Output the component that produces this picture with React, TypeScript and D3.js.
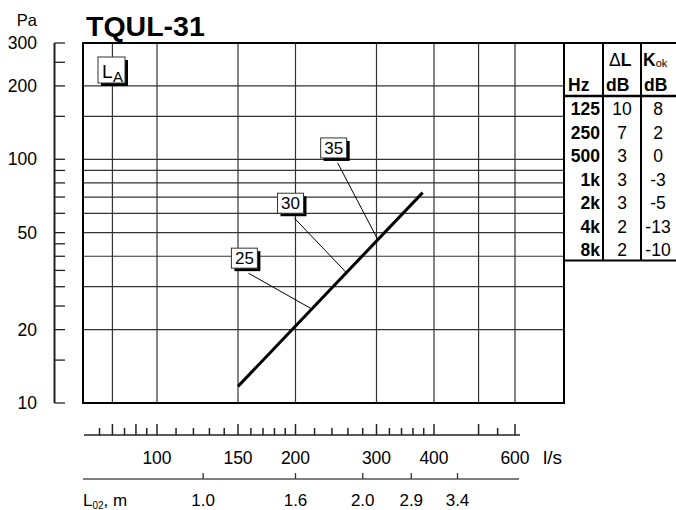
import * as d3 from 'd3';

// pressure (Pa) vs flow (l/s)
const curve: [number, number][] = [
  [150, 11.7],
  [378, 73],
];

// noise level labels: leader start (q, p) and point on curve (q)
const noiseLabels = [
  { db: 25, q: 158, p: 34.1, onQ: 217 },
  { db: 30, q: 199, p: 57.3, onQ: 258 },
  { db: 35, q: 247, p: 96.6, onQ: 302 },
];

const yTicks = [10, 15, 20, 25, 30, 35, 40, 45, 50, 60, 70, 80, 90, 100, 150, 200, 250, 300];
const yLabels = [10, 20, 50, 100, 200, 300];
const yGrid = [20, 30, 40, 50, 60, 70, 80, 90, 100, 150, 200];

const xMajor = [80, 90, 100, 150, 200, 300, 400, 500, 600];
const xMinor = [75, 85, 95, 110, 120, 130, 140, 160, 170, 180, 190, 220, 240, 260, 280, 320, 340, 360, 380, 550];
const xLabels = [100, 150, 200, 300, 400, 600];
const xGrid = [80, 100, 150, 200, 300, 400, 500, 600];

// throw length L02 against flow
const l02Labels = ['1.0', '1.6', '2.0', '2.9', '3.4'];
const l02Flow = [126, 200, 280, 357, 450];

const hz = ['125', '250', '500', '1k', '2k', '4k', '8k'];
const deltaL = [10, 7, 3, 3, 3, 2, 2];
const kok = [8, 2, 0, -3, -5, -13, -10];

const W = 676;
const H = 510;
const font = 'Liberation Sans, Arial, sans-serif';

export default function App() {
  const left = 83, right = 564, top = 43, bottom = 403;
  const x = d3.scaleLog().domain([100, 600]).range([157, 515]);
  const y = d3.scaleLog().domain([10, 300]).range([bottom, top]);

  const line = d3.line<[number, number]>()
    .x(d => x(d[0]))
    .y(d => y(d[1]));

  // pressure on the curve for a given flow (straight line in log-log)
  const pAt = (q: number) => {
    const t = (Math.log(q) - Math.log(curve[0][0])) / (Math.log(curve[1][0]) - Math.log(curve[0][0]));
    return Math.exp(Math.log(curve[0][1]) + t * (Math.log(curve[1][1]) - Math.log(curve[0][1])));
  };

  const axisY = 435;
  const l02Y = 479;
  const tableX = [564, 603, 641];
  const rowH = 23.5;
  const tableBottom = 96 + rowH * hz.length;

  return (
    <svg width={W} height={H} style={{ position: 'absolute', left: 0, top: 0, background: '#fff' }}
      fontFamily={font}>
      <rect width={W} height={H} fill="#fff" />

      {/* title */}
      <text x={86} y={36} fontSize={28.5} fontWeight="bold">TQUL-31</text>
      <text x={37} y={26} fontSize={16.5} textAnchor="end">Pa</text>

      {/* grid */}
      {yGrid.map(v => (
        <line key={'hg' + v} x1={left} x2={right} y1={y(v)} y2={y(v)} stroke="#333" strokeWidth={1.2} />
      ))}
      {xGrid.map(v => (
        <line key={'vg' + v} x1={x(v)} x2={x(v)} y1={top} y2={bottom} stroke="#333" strokeWidth={1.2} />
      ))}
      <rect x={left} y={top} width={right - left} height={bottom - top} fill="none" stroke="#000" strokeWidth={2} />

      {/* y axis */}
      <line x1={54.5} x2={54.5} y1={y(300)} y2={y(10)} stroke="#222" strokeWidth={2} />
      {yTicks.map(v => (
        <line key={'yt' + v} x1={54.5} x2={65} y1={y(v)} y2={y(v)} stroke="#222" strokeWidth={1.3} />
      ))}
      {yLabels.map(v => (
        <text key={'yl' + v} x={37} y={y(v) + 6} fontSize={17.5} textAnchor="end">{v}</text>
      ))}

      {/* L_A box */}
      <rect x={101} y={60} width={27} height={26} fill="#000" />
      <rect x={98} y={57} width={27} height={26} fill="#fff" stroke="#333" strokeWidth={1} />
      <text x={102} y={78} fontSize={19}>L</text>
      <text x={113} y={82} fontSize={15}>A</text>

      {/* curve */}
      <path d={line(curve) ?? ''} fill="none" stroke="#000" strokeWidth={3} />

      {/* noise labels */}
      {noiseLabels.map(d => {
        const ax = x(d.q), ay = y(d.p);
        const bx = x(d.onQ), by = y(pAt(d.onQ));
        return (
          <g key={'nl' + d.db}>
            <line x1={ax} y1={ay} x2={bx} y2={by} stroke="#000" strokeWidth={1} />
            <rect x={ax - 14} y={ay - 22} width={26} height={20} fill="#000" />
            <rect x={ax - 17} y={ay - 25} width={26} height={20} fill="#fff" stroke="#333" strokeWidth={1} />
            <text x={ax - 4} y={ay - 9} fontSize={17} textAnchor="middle">{d.db}</text>
          </g>
        );
      })}

      {/* flow axis */}
      <line x1={84} x2={520} y1={axisY} y2={axisY} stroke="#222" strokeWidth={1.5} />
      {xMajor.map(v => (
        <line key={'xM' + v} x1={x(v)} x2={x(v)} y1={axisY} y2={axisY - 11} stroke="#222" strokeWidth={1.5} />
      ))}
      {xMinor.map(v => (
        <line key={'xm' + v} x1={x(v)} x2={x(v)} y1={axisY} y2={axisY - 7} stroke="#222" strokeWidth={1.5} />
      ))}
      {xLabels.map(v => (
        <text key={'xl' + v} x={x(v)} y={464} fontSize={17.5} textAnchor="middle">{v}</text>
      ))}
      <text x={543} y={464} fontSize={19}>l/s</text>

      {/* throw axis */}
      <line x1={83} x2={519} y1={l02Y} y2={l02Y} stroke="#555" strokeWidth={1.5} />
      {l02Flow.map((q, i) => (
        <g key={'l02' + i}>
          <line x1={x(q)} x2={x(q)} y1={l02Y} y2={l02Y - 6} stroke="#333" strokeWidth={1.3} />
          <text x={x(q)} y={506} fontSize={17} textAnchor="middle">{l02Labels[i]}</text>
        </g>
      ))}
      <text x={83} y={506} fontSize={17}>
        L<tspan fontSize={10} dy={2.5}>02</tspan><tspan fontSize={17} dy={-2.5}>, m</tspan>
      </text>

      {/* table */}
      <line x1={right} x2={W} y1={top} y2={top} stroke="#000" strokeWidth={2} />
      <line x1={right} x2={W} y1={96} y2={96} stroke="#000" strokeWidth={2.5} />
      <line x1={right} x2={W} y1={tableBottom} y2={tableBottom} stroke="#000" strokeWidth={2} />
      {tableX.map((tx, i) => (
        <line key={'tc' + i} x1={tx} x2={tx} y1={top} y2={tableBottom} stroke="#000" strokeWidth={2} />
      ))}
      <text x={609} y={66} fontSize={17.5}>
        Δ<tspan fontWeight="bold">L</tspan>
      </text>
      <text x={643} y={66} fontSize={17.5} fontWeight="bold">
        K<tspan fontSize={11} fontWeight="normal" dy={1}>ok</tspan>
      </text>
      <text x={568} y={91} fontSize={17.5} fontWeight="bold">Hz</text>
      <text x={606} y={91} fontSize={17.5} fontWeight="bold">dB</text>
      <text x={644} y={91} fontSize={17.5} fontWeight="bold">dB</text>
      {hz.map((h, i) => {
        const ty = 115 + rowH * i;
        return (
          <g key={'row' + h}>
            <text x={600} y={ty} fontSize={17.5} fontWeight="bold" textAnchor="end">{h}</text>
            <text x={622} y={ty} fontSize={17.5} textAnchor="middle">{deltaL[i]}</text>
            <text x={658} y={ty} fontSize={17.5} textAnchor="middle">{kok[i]}</text>
          </g>
        );
      })}
    </svg>
  );
}
